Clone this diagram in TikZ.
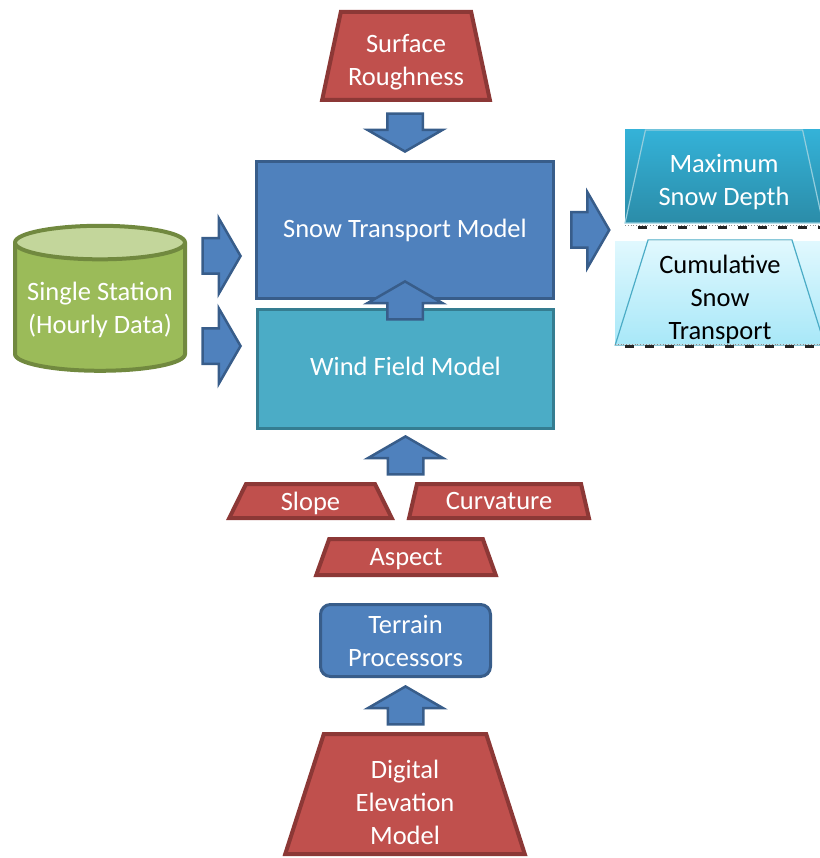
\documentclass[tikz,border=0pt]{standalone}
\usepackage{fontspec}
\setmainfont{Carlito}
\usetikzlibrary{shapes.geometric,shapes.arrows,calc}

\definecolor{boxred}{HTML}{C0504D}
\definecolor{boxredline}{HTML}{8C3836}
\definecolor{boxblue}{HTML}{4F81BD}
\definecolor{boxblueline}{HTML}{385D8A}
\definecolor{boxteal}{HTML}{4BACC6}
\definecolor{boxtealline}{HTML}{357D91}
\definecolor{boxgreen}{HTML}{9BBB59}
\definecolor{boxgreenline}{HTML}{71893F}
\definecolor{boxgreentop}{HTML}{C3D69B}
\definecolor{depthtop}{HTML}{34B2D8}
\definecolor{depthbot}{HTML}{2B8CA8}
\definecolor{cumtop}{HTML}{E0F8FE}
\definecolor{cumbot}{HTML}{A9E8F8}

% invisible struts to move a label down (padtop) or up (padbot) in its box
\newcommand{\padtop}[1]{\rule{0pt}{#1}}
\newcommand{\padbot}[1]{\rule[-#1]{0pt}{#1}}

\tikzset{
  every node/.style={font=\fontsize{26.5}{33}\selectfont, align=center},
  layer/.style={trapezium, trapezium stretches=true, draw=boxredline,
    fill=boxred, line width=4pt, text=white, inner sep=1pt},
  model/.style={rectangle, draw=boxblueline, fill=boxblue, line width=3pt,
    text=white},
  blockarrow/.style={single arrow, draw=boxblueline, fill=boxblue,
    line width=2.5pt, minimum height=38pt, inner xsep=0pt, inner ysep=16.5pt,
    single arrow head extend=20pt, single arrow tip angle=120},
  output/.style={trapezium, trapezium stretches=true, line width=1.2pt,
    inner sep=1pt},
  combline/.style={draw=black!45, line width=0.8pt, dotted},
  comb/.style={draw=black!85, line width=3pt, dash pattern=on 9pt off 11pt}
}

\begin{document}
\begin{tikzpicture}[x=1pt, y=-1pt]
  \useasboundingbox (0,0) rectangle (819,858);

  % inputs
  \node[layer, minimum width=168pt, minimum height=88pt, trapezium angle=76.6]
    (rough) at (406,56) {\padtop{31.5pt}Surface\\Roughness};
  \node[cylinder, shape border rotate=90, aspect=0.22, draw=boxgreenline,
    line width=4pt, cylinder uses custom fill, cylinder body fill=boxgreen,
    cylinder end fill=boxgreentop, minimum width=170pt, minimum height=145pt,
    text=white] (station) at (100,310) {Single Station\\(Hourly Data)};

  % the two models
  \node[model, minimum width=297pt, minimum height=137pt]
    (snow) at (405,230) {Snow Transport Model};
  \node[model, fill=boxteal, draw=boxtealline, minimum width=296pt,
    minimum height=119pt] (wind) at (405.5,369)
    {\padbot{6pt}Wind Field Model};

  % terrain chain
  \node[layer, minimum width=163pt, minimum height=34pt, trapezium angle=75]
    (slope) at (310.5,501) {\padtop{23.5pt}Slope};
  \node[layer, minimum width=180pt, minimum height=34pt, trapezium angle=75]
    (curv) at (499,501) {Curvature};
  \node[layer, minimum width=180pt, minimum height=36pt, trapezium angle=77]
    (asp) at (406,557) {\padtop{21pt}Aspect};
  \node[model, rounded corners=10pt, minimum width=170pt, minimum height=72pt]
    (proc) at (405.5,640.5) {Terrain\\Processors};
  \node[layer, minimum width=240pt, minimum height=120pt, trapezium angle=77]
    (dem) at (405,794) {\padtop{35.5pt}Digital\\Elevation\\Model};

  % outputs
  \shade[top color=depthtop, bottom color=depthbot] (625,130) rectangle (830,223);
  \node[output, draw=boxteal!60!white, minimum width=198pt, minimum height=93pt,
    trapezium angle=76, text=white] (depth) at (724,176.5)
    {\padtop{30pt}Maximum\\Snow Depth};
  \draw[combline] (625,225.5) -- (830,225.5);
  \draw[comb] (638,227.5) -- (830,227.5);
  \shade[top color=cumtop, bottom color=cumbot] (615,242) rectangle (830,343);
  \node[output, draw=boxteal, minimum width=210pt, minimum height=101pt,
    trapezium angle=75] (cumul) at (720,292.5)
    {\padtop{33pt}Cumulative\\Snow\\Transport};
  \draw[combline] (615,344.5) -- (830,344.5);
  \draw[comb] (625,346.5) -- (830,346.5);

  % block arrows
  \coordinate (into) at ([xshift=-13pt]snow.west);
  \node[blockarrow, rotate=-90, anchor=tip] (a1) at ([yshift=7pt]snow.north) {};
  \node[blockarrow, rotate=90, anchor=tip] (a2) at ([yshift=20pt]snow.south) {};
  \node[blockarrow, rotate=90, anchor=tip] (a3) at ([yshift=-5pt]wind.south) {};
  \node[blockarrow, rotate=90, anchor=tip] (a4) at ([yshift=-7pt]proc.south) {};
  \node[blockarrow, anchor=tip] (a5) at (into |- 0,256) {};
  \node[blockarrow, anchor=tip] (a6) at (into |- 0,346) {};
  \node[blockarrow, anchor=tail] (a7) at ([xshift=15pt]snow.east) {};
\end{tikzpicture}
\end{document}
